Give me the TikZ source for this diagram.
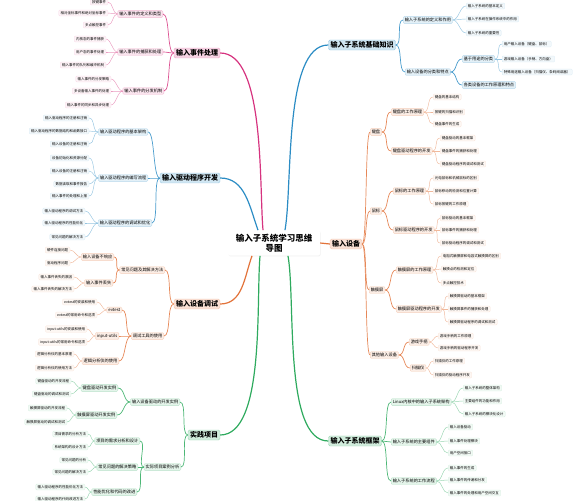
\documentclass[tikz,border=0pt]{standalone}
\usepackage{fontspec}
\setmainfont{Noto Sans CJK SC}
\usetikzlibrary{shadows}

\definecolor{pinkc}{HTML}{D6337F}
\definecolor{bluec}{HTML}{2B8CC4}
\definecolor{orangec}{HTML}{E2733A}
\definecolor{greenc}{HTML}{2EAA5E}

\tikzset{
  centerbox/.style={fill=white, rounded corners=2pt, align=center,
    font=\bfseries\fontsize{8.5}{10.5}\selectfont, minimum width=92pt, minimum height=24pt,
    drop shadow={opacity=0.12, shadow xshift=0.6pt, shadow yshift=-0.8pt}},
  mainbox/.style={draw=#1!45, fill=#1!22, rounded corners=1.5pt, line width=0.4pt,
    font=\bfseries\fontsize{7}{8}\selectfont, inner xsep=2pt, inner ysep=1.6pt},
  subbox/.style={draw=#1!35, fill=#1!13, rounded corners=1pt, line width=0.3pt,
    font=\fontsize{4.2}{5}\selectfont, inner xsep=1.6pt, inner ysep=1.4pt},
  leafbox/.style={draw=#1!20, fill=#1!6, rounded corners=1pt, line width=0.25pt,
    font=\fontsize{3.5}{4.2}\selectfont, inner xsep=1.8pt, inner ysep=1.3pt},
  mainline/.style={draw=#1, line width=1.2pt},
  subline/.style={draw=#1!85, line width=0.7pt},
  leafline/.style={draw=#1!50, line width=0.45pt},
  tol/.style={out=180, in=0, max distance=#1}, tol/.default=7pt,
  tor/.style={out=0, in=180, max distance=#1}, tor/.default=7pt,
}

\begin{document}
\begin{tikzpicture}[x=1pt,y=-1pt]
\useasboundingbox (0,0) rectangle (577,500);

% centre and main topics
\node[centerbox] (c) at (274,243) {输入子系统学习思维\\导图};
\node[mainbox=pinkc] (evt) at (197,53) {输入事件处理};
\node[mainbox=bluec] (drv) at (190,178) {输入驱动程序开发};
\node[mainbox=orangec] (dbg) at (197,304) {输入设备调试};
\node[mainbox=greenc] (prj) at (204,435) {实践项目};
\node[mainbox=bluec] (base) at (362,45) {输入子系统基础知识};
\node[mainbox=orangec] (dev) at (346,244) {输入设备};
\node[mainbox=greenc] (frm) at (355,441) {输入子系统框架};

\draw[mainline=pinkc] ([xshift=-11pt]c.north) to[out=95,in=0,max distance=45pt] (evt.east);
\draw[mainline=bluec] ([xshift=-16pt]c.north) to[out=110,in=0,max distance=30pt] (drv.east);
\draw[mainline=bluec] ([xshift=11pt]c.north) to[out=80,in=180,max distance=45pt] (base.west);
\draw[mainline=orangec] (c.east) -- (dev.west);
\draw[mainline=orangec] ([xshift=-22pt]c.south) to[out=-110,in=0,max distance=25pt] (dbg.east);
\draw[mainline=greenc] ([xshift=-14pt]c.south) to[out=-95,in=0,max distance=45pt] (prj.east);
\draw[mainline=greenc] ([xshift=14pt]c.south) to[out=-80,in=180,max distance=45pt] (frm.west);

% 输入事件处理
\node[subbox=pinkc,anchor=east] (e1) at (163,14) {输入事件的定义和类型};
\node[subbox=pinkc,anchor=east] (e2) at (163,52) {输入事件的捕获和处理};
\node[subbox=pinkc,anchor=east] (e3) at (164,91) {输入事件的分发机制};
\foreach \n in {e1,e2,e3} \draw[subline=pinkc] (evt.west) to[tol] (\n.east);
\foreach \y/\txt [count=\i] in {2/按键事件,13/相对坐标事件和绝对坐标事件,25/多点触控事件}{
  \node[leafbox=pinkc,anchor=east] (e1-\i) at (108,\y) {\txt};
  \draw[leafline=pinkc] (e1.west) to[tol=5pt] (e1-\i.east);
}
\foreach \y/\txt [count=\i] in {39/内核态的事件捕获,52/用户态的事件处理,65/输入事件的队列和缓冲机制}{
  \node[leafbox=pinkc,anchor=east] (e2-\i) at (106,\y) {\txt};
  \draw[leafline=pinkc] (e2.west) to[tol=5pt] (e2-\i.east);
}
\foreach \y/\txt [count=\i] in {79/输入事件的分发策略,91/多设备输入事件的处理,105/输入事件的同步和异步处理}{
  \node[leafbox=pinkc,anchor=east] (e3-\i) at (111,\y) {\txt};
  \draw[leafline=pinkc] (e3.west) to[tol=5pt] (e3-\i.east);
}

% 输入驱动程序开发
\node[subbox=bluec,anchor=east] (d1) at (148,132) {输入驱动程序的基本架构};
\node[subbox=bluec,anchor=east] (d2) at (148,178) {输入驱动程序的编写流程};
\node[subbox=bluec,anchor=east] (d3) at (152,223) {输入驱动程序的调试和优化};
\foreach \n in {d1,d2,d3} \draw[subline=bluec] (drv.west) to[tol] (\n.east);
\foreach \y/\txt [count=\i] in {118/输入驱动程序的注册和注销,131/输入驱动程序的数据结构和函数接口,144/输入设备的注册和注销}{
  \node[leafbox=bluec,anchor=east] (d1-\i) at (89,\y) {\txt};
  \draw[leafline=bluec] (d1.west) to[tol=6pt] (d1-\i.east);
}
\foreach \y/\txt [count=\i] in {158/设备初始化和资源分配,171/输入设备的注册和注销,184/数据读取和事件报告,196/输入事件的处理和上报}{
  \node[leafbox=bluec,anchor=east] (d2-\i) at (89,\y) {\txt};
  \draw[leafline=bluec] (d2.west) to[tol=6pt] (d2-\i.east);
}
\foreach \y/\txt [count=\i] in {211/输入驱动程序的调试方法,223/输入驱动程序的性能优化,237/常见问题的解决方法}{
  \node[leafbox=bluec,anchor=east] (d3-\i) at (85,\y) {\txt};
  \draw[leafline=bluec] (d3.west) to[tol=6pt] (d3-\i.east);
}

% 输入设备调试
\node[subbox=orangec,anchor=east] (t1) at (165,270) {常见问题及其解决方法};
\node[subbox=orangec,anchor=east] (t2) at (164,336) {调试工具的使用};
\foreach \n in {t1,t2} \draw[subline=orangec] (dbg.west) to[tol] (\n.east);
\node[subbox=orangec,anchor=east] (t11) at (114,257) {输入设备不响应};
\node[subbox=orangec,anchor=east] (t12) at (113,283) {输入事件丢失};
\foreach \n in {t11,t12} \draw[subline=orangec] (t1.west) to[tol] (\n.east);
\node[subbox=orangec,anchor=east] (t21) at (122,310) {evtest};
\node[subbox=orangec,anchor=east] (t22) at (119,336) {input-utils};
\node[subbox=orangec,anchor=east] (t23) at (119,361) {逻辑分析仪的使用};
\foreach \n in {t21,t22,t23} \draw[subline=orangec] (t2.west) to[tol] (\n.east);
\foreach \y/\txt [count=\i] in {250/硬件连接问题,263/驱动程序问题}{
  \node[leafbox=orangec,anchor=east] (t11-\i) at (70,\y) {\txt};
  \draw[leafline=orangec] (t11.west) to[tol=6pt] (t11-\i.east);
}
\foreach \y/\txt [count=\i] in {277/输入事件丢失的原因,289/输入事件丢失的解决方法}{
  \node[leafbox=orangec,anchor=east] (t12-\i) at (74,\y) {\txt};
  \draw[leafline=orangec] (t12.west) to[tol=6pt] (t12-\i.east);
}
\foreach \y/\txt [count=\i] in {302/evtest的安装和使用,315/evtest的常用命令和选项}{
  \node[leafbox=orangec,anchor=east] (t21-\i) at (97,\y) {\txt};
  \draw[leafline=orangec] (t21.west) to[tol=6pt] (t21-\i.east);
}
\foreach \y/\txt [count=\i] in {329/input-utils的安装和使用,342/input-utils的常用命令和选项}{
  \node[leafbox=orangec,anchor=east] (t22-\i) at (87,\y) {\txt};
  \draw[leafline=orangec] (t22.west) to[tol=6pt] (t22-\i.east);
}
\foreach \y/\txt [count=\i] in {354/逻辑分析仪的基本原理,368/逻辑分析仪的使用方法}{
  \node[leafbox=orangec,anchor=east] (t23-\i) at (74,\y) {\txt};
  \draw[leafline=orangec] (t23.west) to[tol=6pt] (t23-\i.east);
}

% 实践项目
\node[subbox=greenc,anchor=east] (p1) at (180,402) {输入设备驱动的开发实例};
\node[subbox=greenc,anchor=east] (p2) at (181,467) {实际项目案例分析};
\foreach \n in {p1,p2} \draw[subline=greenc] (prj.west) to[tol] (\n.east);
\node[subbox=greenc,anchor=east] (p11) at (118,388) {键盘驱动开发实例};
\node[subbox=greenc,anchor=east] (p12) at (117,415) {触摸屏驱动开发实例};
\foreach \n in {p11,p12} \draw[subline=greenc] (p1.west) to[tol] (\n.east);
\node[subbox=greenc,anchor=east] (p21) at (140,441) {项目的需求分析和设计};
\node[subbox=greenc,anchor=east] (p22) at (138,467) {常见问题的解决策略};
\node[subbox=greenc,anchor=east] (p23) at (137,492) {性能优化和代码的改进};
\foreach \n in {p21,p22,p23} \draw[subline=greenc] (p2.west) to[tol] (\n.east);
\foreach \y/\txt [count=\i] in {381/键盘驱动的开发流程,394/键盘驱动的调试和测试}{
  \node[leafbox=greenc,anchor=east] (p11-\i) at (71,\y) {\txt};
  \draw[leafline=greenc] (p11.west) to[tol=6pt] (p11-\i.east);
}
\foreach \y/\txt [count=\i] in {408/触摸屏驱动的开发流程,422/触摸屏驱动的调试和测试}{
  \node[leafbox=greenc,anchor=east] (p12-\i) at (67,\y) {\txt};
  \draw[leafline=greenc] (p12.west) to[tol=6pt] (p12-\i.east);
}
\foreach \y/\txt [count=\i] in {434/项目需求的分析方法,447/系统架构的设计方法}{
  \node[leafbox=greenc,anchor=east] (p21-\i) at (88,\y) {\txt};
  \draw[leafline=greenc] (p21.west) to[tol=6pt] (p21-\i.east);
}
\foreach \y/\txt [count=\i] in {460/常见问题的分析,472/常见问题的解决方法}{
  \node[leafbox=greenc,anchor=east] (p22-\i) at (88,\y) {\txt};
  \draw[leafline=greenc] (p22.west) to[tol=6pt] (p22-\i.east);
}
\foreach \y/\txt [count=\i] in {487/输入驱动程序的性能优化方法,499/输入驱动程序的代码改进方法}{
  \node[leafbox=greenc,anchor=east] (p23-\i) at (85,\y) {\txt};
  \draw[leafline=greenc] (p23.west) to[tol=6pt] (p23-\i.east);
}

% 输入子系统基础知识
\node[subbox=bluec,anchor=west] (b1) at (403,20) {输入子系统的定义和作用};
\node[subbox=bluec,anchor=west] (b2) at (405,72) {输入设备的分类和特点};
\foreach \n in {b1,b2} \draw[subline=bluec] (base.east) to[tor] (\n.west);
\foreach \y/\txt [count=\i] in {6/输入子系统的基本定义,19/输入子系统在操作系统中的作用,33/输入子系统的重要性}{
  \node[leafbox=bluec,anchor=west] (b1-\i) at (466,\y) {\txt};
  \draw[leafline=bluec] (b1.east) to[tor=6pt] (b1-\i.west);
}
\node[subbox=bluec,anchor=west] (b21) at (462,59) {基于用途的分类};
\node[subbox=bluec,anchor=west] (b22) at (462,85) {各类设备的工作原理和特点};
\foreach \n in {b21,b22} \draw[subline=bluec] (b2.east) to[tor] (\n.west);
\foreach \y/\txt [count=\i] in {44/用户输入设备（键盘、鼠标）,59/游戏输入设备（手柄、方向盘）,72/特殊用途输入设备（扫描仪、条码阅读器）}{
  \node[leafbox=bluec,anchor=west] (b21-\i) at (502,\y) {\txt};
  \draw[leafline=bluec] (b21.east) to[tor=6pt] (b21-\i.west);
}

% 输入设备
\node[subbox=orangec,anchor=west] (k) at (370,132) {键盘};
\node[subbox=orangec,anchor=west] (m) at (370,211) {鼠标};
\node[subbox=orangec,anchor=west] (s) at (369,290) {触摸屏};
\node[subbox=orangec,anchor=west] (o) at (370,355) {其他输入设备};
\foreach \n in {k,m,s,o} \draw[subline=orangec] (dev.east) to[tor=5pt] (\n.west);
\node[subbox=orangec,anchor=west] (k1) at (391,112) {键盘的工作原理};
\node[subbox=orangec,anchor=west] (k2) at (391,151) {键盘驱动程序的开发};
\node[subbox=orangec,anchor=west] (m1) at (393,191) {鼠标的工作原理};
\node[subbox=orangec,anchor=west] (m2) at (393,230) {鼠标驱动程序的开发};
\node[subbox=orangec,anchor=west] (s1) at (396,270) {触摸屏的工作原理};
\node[subbox=orangec,anchor=west] (s2) at (396,309) {触摸屏驱动程序的开发};
\node[subbox=orangec,anchor=west] (o1) at (409,342) {游戏手柄};
\node[subbox=orangec,anchor=west] (o2) at (410,368) {扫描仪};
\foreach \a/\b in {k/k1,k/k2,m/m1,m/m2,s/s1,s/s2,o/o1,o/o2}
  \draw[subline=orangec] (\a.east) to[tor] (\b.west);
\foreach \y/\txt [count=\i] in {97/键盘的基本结构,112/按键的扫描和识别,124/键盘事件的生成}{
  \node[leafbox=orangec,anchor=west] (k1-\i) at (433,\y) {\txt};
  \draw[leafline=orangec] (k1.east) to[tor=6pt] (k1-\i.west);
}
\foreach \y/\txt [count=\i] in {138/键盘驱动的基本框架,151/键盘事件的捕获和处理,164/键盘驱动程序的调试和测试}{
  \node[leafbox=orangec,anchor=west] (k2-\i) at (440,\y) {\txt};
  \draw[leafline=orangec] (k2.east) to[tor=6pt] (k2-\i.west);
}
\foreach \y/\txt [count=\i] in {178/光电鼠标和机械鼠标的区别,191/鼠标移动的检测和位置计算,204/鼠标按键的工作原理}{
  \node[leafbox=orangec,anchor=west] (m1-\i) at (433,\y) {\txt};
  \draw[leafline=orangec] (m1.east) to[tor=6pt] (m1-\i.west);
}
\foreach \y/\txt [count=\i] in {218/鼠标驱动的基本框架,230/鼠标事件的捕获和处理,243/鼠标驱动程序的调试和测试}{
  \node[leafbox=orangec,anchor=west] (m2-\i) at (440,\y) {\txt};
  \draw[leafline=orangec] (m2.east) to[tor=6pt] (m2-\i.west);
}
\foreach \y/\txt [count=\i] in {256/电阻式触摸屏和电容式触摸屏的区别,269/触摸点的检测和定位,283/多点触控技术}{
  \node[leafbox=orangec,anchor=west] (s1-\i) at (441,\y) {\txt};
  \draw[leafline=orangec] (s1.east) to[tor=6pt] (s1-\i.west);
}
\foreach \y/\txt [count=\i] in {296/触摸屏驱动的基本框架,309/触摸屏事件的捕获和处理,322/触摸屏驱动程序的调试和测试}{
  \node[leafbox=orangec,anchor=west] (s2-\i) at (448,\y) {\txt};
  \draw[leafline=orangec] (s2.east) to[tor=6pt] (s2-\i.west);
}
\foreach \y/\txt [count=\i] in {336/游戏手柄的工作原理,348/游戏手柄的驱动程序开发}{
  \node[leafbox=orangec,anchor=west] (o1-\i) at (438,\y) {\txt};
  \draw[leafline=orangec] (o1.east) to[tor=6pt] (o1-\i.west);
}
\foreach \y/\txt [count=\i] in {361/扫描仪的工作原理,375/扫描仪的驱动程序开发}{
  \node[leafbox=orangec,anchor=west] (o2-\i) at (433,\y) {\txt};
  \draw[leafline=orangec] (o2.east) to[tor=6pt] (o2-\i.west);
}

% 输入子系统框架
\node[subbox=greenc,anchor=west] (f1) at (391,402) {Linux内核中的输入子系统架构};
\node[subbox=greenc,anchor=west] (f2) at (391,442) {输入子系统的主要组件};
\node[subbox=greenc,anchor=west] (f3) at (391,481) {输入子系统的工作流程};
\foreach \n in {f1,f2,f3} \draw[subline=greenc] (frm.east) to[tor] (\n.west);
\foreach \y/\txt [count=\i] in {388/输入子系统的整体架构,401/主要组件的功能和作用,414/输入子系统的模块化设计}{
  \node[leafbox=greenc,anchor=west] (f1-\i) at (463,\y) {\txt};
  \draw[leafline=greenc] (f1.east) to[tor=6pt] (f1-\i.west);
}
\foreach \y/\txt [count=\i] in {427/输入设备驱动,441/输入事件处理模块,453/用户空间接口}{
  \node[leafbox=greenc,anchor=west] (f2-\i) at (448,\y) {\txt};
  \draw[leafline=greenc] (f2.east) to[tor=6pt] (f2-\i.west);
}
\foreach \y/\txt [count=\i] in {468/输入事件的生成,480/输入事件的传递和分发,493/输入事件的处理和用户空间交互}{
  \node[leafbox=greenc,anchor=west] (f3-\i) at (448,\y) {\txt};
  \draw[leafline=greenc] (f3.east) to[tor=6pt] (f3-\i.west);
}
\end{tikzpicture}
\end{document}
